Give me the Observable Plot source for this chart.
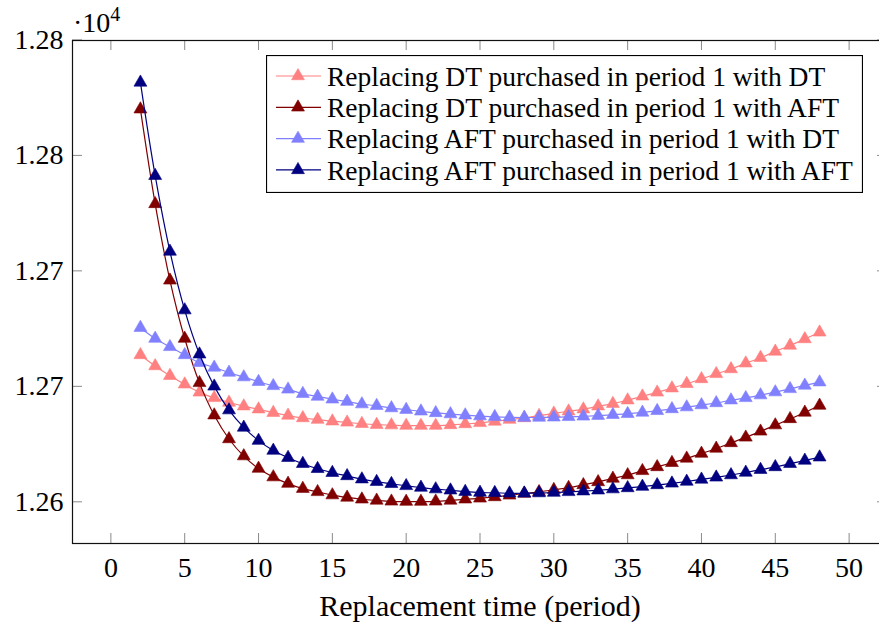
<!DOCTYPE html>
<html>
<head>
<meta charset="utf-8">
<script src="https://cdn.jsdelivr.net/npm/d3@7"></script>
<script src="https://cdn.jsdelivr.net/npm/@observablehq/plot@0.6"></script>
<style>
  html, body { margin: 0; padding: 0; background: #fff; }
  #wrap { position: relative; width: 879px; height: 626px; overflow: hidden; background: #fff;
          font-family: "Liberation Serif", "DejaVu Serif", serif; color: #000; }
  #chart { width: 890px; height: 626px; }
  #chart svg { max-width: none !important; width: 890px !important; height: 626px !important; }
  #expo { position: absolute; left: 73px; top: 5px; font-size: 28px; line-height: 1; }
  #expo sup { font-size: 20px; position: relative; top: -1px; }
  #legend { position: absolute; left: 266px; top: 55px; }
</style>
</head>
<body>
<div id="wrap">
  <div id="chart"></div>
  <div id="expo">·10<sup>4</sup></div>
  <svg id="legend" width="597" height="138"></svg>
</div>
<script>
// ---- data ----
const periods = [2,3,4,5,6,7,8,9,10,11,12,13,14,15,16,17,18,19,20,21,22,23,24,25,26,27,28,29,30,31,32,33,34,35,36,37,38,39,40,41,42,43,44,45,46,47,48];

const seriesNames = [
  "Replacing DT purchased in period 1 with DT",
  "Replacing DT purchased in period 1 with AFT",
  "Replacing AFT purchased in period 1 with DT",
  "Replacing AFT purchased in period 1 with AFT"
];
const seriesColors = ["#ff8080", "#800000", "#8080ff", "#000080"];

const dtWithDt = [12663.6,12658.8,12654.6,12650.9,12647.4,12645.0,12643.0,12641.4,12640.1,12638.6,12637.4,12636.3,12635.6,12634.9,12634.4,12633.8,12633.4,12633.2,12633.0,12633.0,12633.0,12633.3,12633.7,12634.2,12634.8,12635.6,12636.3,12637.3,12638.3,12639.2,12640.1,12641.4,12642.5,12644.0,12645.7,12647.4,12649.2,12651.1,12653.2,12655.4,12657.5,12660.0,12662.4,12665.1,12667.7,12670.5,12673.4];
const dtWithAft = [12770.0,12729.0,12695.9,12670.7,12651.5,12637.5,12627.2,12619.8,12614.4,12610.7,12607.9,12605.7,12604.3,12602.9,12601.9,12601.1,12600.6,12600.2,12600.1,12600.1,12600.2,12600.6,12601.1,12601.5,12602.1,12602.8,12603.6,12604.3,12605.2,12606.1,12607.3,12608.6,12610.1,12611.6,12613.4,12615.1,12616.9,12618.8,12620.9,12623.1,12625.5,12627.9,12630.5,12633.2,12635.9,12638.7,12641.7];
const aftWithDt = [12675.4,12670.7,12667.1,12663.6,12660.2,12658.2,12656.0,12654.0,12652.0,12650.2,12648.7,12646.8,12645.6,12644.4,12643.4,12642.3,12641.6,12640.6,12639.9,12639.2,12638.5,12638.0,12637.5,12637.1,12636.8,12636.6,12636.5,12636.5,12636.6,12636.8,12637.0,12637.3,12637.7,12638.1,12638.7,12639.4,12640.2,12641.0,12641.9,12642.8,12644.0,12645.0,12646.2,12647.5,12648.9,12650.4,12651.8];
const aftWithAft = [12781.6,12741.2,12708.4,12683.0,12663.9,12650.0,12639.7,12632.2,12626.5,12622.2,12619.1,12616.5,12614.3,12612.6,12611.2,12609.8,12608.7,12607.8,12606.9,12606.2,12605.5,12605.0,12604.4,12604.0,12603.9,12603.7,12603.7,12603.8,12604.0,12604.3,12604.6,12605.0,12605.5,12606.0,12606.6,12607.3,12608.0,12608.8,12609.7,12610.6,12611.6,12612.7,12613.9,12615.1,12616.5,12617.9,12619.3];

const xTicks = [0,5,10,15,20,25,30,35,40,45,50];
const yTicks = [12600,12650,12700,12750,12800];
const yTickLabels = ["1.26","1.27","1.27","1.28","1.28"];
const xLabel = "Replacement time (period)";

// ---- build ----
const allSeries = [dtWithDt, dtWithAft, aftWithDt, aftWithAft];
const rows = [];
allSeries.forEach((vals, s) => vals.forEach((v, i) => rows.push({x: periods[i], y: v, s})));

const xExt = d3.extent(periods), yExt = d3.extent(rows, d => d.y);
const xPad = 0.1 * (xExt[1] - xExt[0]), yPad = 0.1 * (yExt[1] - yExt[0]);

const W = 890, H = 626, mL = 72, mR = 3, mT = 40, mB = 83;
const frameW = W - mL - mR, frameH = H - mT - mB;
const tickLen = 10;
const yLabelMap = new Map(yTicks.map((t, i) => [t, yTickLabels[i]]));
const serif = "'Liberation Serif', 'DejaVu Serif', serif";

const marks = [
  Plot.ruleX(xTicks, {x: d => d, insetTop: frameH - tickLen, stroke: "#8a8a8a", strokeWidth: 1}),
  Plot.ruleX(xTicks, {x: d => d, insetBottom: frameH - tickLen, stroke: "#8a8a8a", strokeWidth: 1}),
  Plot.ruleY(yTicks, {y: d => d, insetRight: frameW - tickLen, stroke: "#8a8a8a", strokeWidth: 1}),
  Plot.ruleY(yTicks, {y: d => d, insetLeft: frameW - tickLen, stroke: "#8a8a8a", strokeWidth: 1}),
  Plot.axisX({ticks: xTicks, tickSize: 0, tickPadding: 14, label: null, fontSize: 28}),
  Plot.axisY({ticks: yTicks, tickSize: 0, tickPadding: 9, label: null, fontSize: 28,
              tickFormat: d => yLabelMap.get(d)}),
  Plot.text([xLabel], {frameAnchor: "bottom", dy: 63, fontSize: 30, lineAnchor: "middle"})
];
allSeries.forEach((vals, s) => {
  const data = rows.filter(d => d.s === s);
  marks.push(Plot.line(data, {x: "x", y: "y", stroke: seriesColors[s], strokeWidth: 1.2, curve: "catmull-rom"}));
  marks.push(Plot.dot(data, {x: "x", y: "y", symbol: "triangle", r: 4.8, fill: seriesColors[s],
                             stroke: seriesColors[s], strokeWidth: 0.6}));
});
marks.push(Plot.frame({stroke: "#111", strokeWidth: 1.2}));

const chart = Plot.plot({
  width: W, height: H,
  marginLeft: mL, marginRight: mR, marginTop: mT, marginBottom: mB,
  x: {domain: [xExt[0] - xPad, xExt[1] + xPad]},
  y: {domain: [yExt[0] - yPad, yExt[1] + yPad]},
  style: {fontFamily: serif, fontSize: "28px", color: "#000", background: "#fff"},
  marks
});
document.getElementById("chart").appendChild(chart);

// ---- legend ----
const lg = d3.select("#legend");
lg.append("rect").attr("x", 0.5).attr("y", 0.5).attr("width", 596).attr("height", 137)
  .attr("fill", "#fff").attr("stroke", "#000").attr("stroke-width", 1.2);
const tri = d3.symbol(d3.symbolTriangle, Math.PI * 4.8 * 4.8);
seriesNames.forEach((name, i) => {
  const cy = 21 + i * 31.3;
  const g = lg.append("g");
  g.append("line").attr("x1", 10).attr("x2", 55).attr("y1", cy).attr("y2", cy)
    .attr("stroke", seriesColors[i]).attr("stroke-width", 1.2);
  g.append("path").attr("d", tri()).attr("transform", `translate(32,${cy})`)
    .attr("fill", seriesColors[i]).attr("stroke", seriesColors[i]).attr("stroke-width", 0.6);
  g.append("text").attr("x", 61).attr("y", cy).attr("dy", "0.35em")
    .attr("font-size", 27.5).attr("font-family", serif)
    .text(name);
});
</script>
</body>
</html>
